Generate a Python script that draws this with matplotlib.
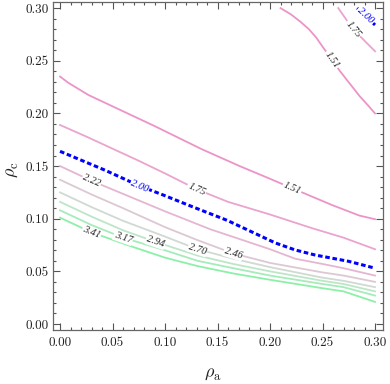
import numpy as np
import matplotlib
matplotlib.use("Agg")
import matplotlib.pyplot as plt
from matplotlib.ticker import MultipleLocator, FormatStrFormatter

plt.rcParams['mathtext.fontset'] = 'cm'
plt.rcParams['axes.formatter.use_mathtext'] = True

# ---- contour lines (rho_a, rho_c) ----
c151_x = [0.0, 0.008, 0.027, 0.059, 0.09, 0.135, 0.171, 0.195, 0.221, 0.259, 0.285, 0.30]
c151_y = [0.235, 0.229, 0.2175, 0.2025, 0.188, 0.166, 0.150, 0.140, 0.129, 0.113, 0.103, 0.0995]

c175_x = [0.0, 0.025, 0.05, 0.075, 0.10, 0.13, 0.16, 0.20, 0.24, 0.27, 0.30]
c175_y = [0.189, 0.178, 0.1665, 0.155, 0.143, 0.128, 0.116, 0.104, 0.091, 0.082, 0.071]

c200_x = [0.0, 0.043, 0.076, 0.097, 0.127, 0.159, 0.189, 0.205, 0.224, 0.243, 0.275, 0.30]
c200_y = [0.164, 0.146, 0.131, 0.123, 0.111, 0.0985, 0.0845, 0.077, 0.0703, 0.0655, 0.0595, 0.053]

c222_x = [0.0, 0.030, 0.059, 0.10, 0.143, 0.17, 0.20, 0.224, 0.25, 0.27, 0.30]
c222_y = [0.150, 0.136, 0.124, 0.107, 0.090, 0.081, 0.071, 0.062, 0.057, 0.053, 0.046]

c246_x = [0.0, 0.03, 0.06, 0.10, 0.13, 0.165, 0.20, 0.25, 0.27, 0.30]
c246_y = [0.137, 0.123, 0.110, 0.092, 0.080, 0.067, 0.058, 0.049, 0.046, 0.040]

c270_x = [0.0, 0.03, 0.06, 0.10, 0.131, 0.165, 0.20, 0.25, 0.27, 0.30]
c270_y = [0.125, 0.111, 0.098, 0.083, 0.071, 0.062, 0.054, 0.044, 0.041, 0.035]

c294_x = [0.0, 0.03, 0.06, 0.091, 0.131, 0.165, 0.20, 0.25, 0.27, 0.30]
c294_y = [0.116, 0.102, 0.089, 0.078, 0.065, 0.057, 0.050, 0.041, 0.038, 0.031]

c317_x = [0.0, 0.03, 0.06, 0.10, 0.131, 0.165, 0.20, 0.25, 0.27, 0.30]
c317_y = [0.108, 0.094, 0.082, 0.070, 0.060, 0.053, 0.046, 0.038, 0.035, 0.027]

c341_x = [0.0, 0.03, 0.07, 0.10, 0.131, 0.165, 0.20, 0.25, 0.27, 0.30]
c341_y = [0.101, 0.087, 0.073, 0.063, 0.055, 0.048, 0.042, 0.034, 0.031, 0.021]

# upper-right branches
u151_x = [0.210, 0.220, 0.229, 0.237, 0.244, 0.251, 0.259, 0.266, 0.273, 0.2857, 0.293, 0.30]
u151_y = [0.300, 0.294, 0.287, 0.280, 0.272, 0.262, 0.251, 0.241, 0.232, 0.216, 0.208, 0.200]
u175_x = [0.265, 0.272, 0.279, 0.290, 0.30]
u175_y = [0.300, 0.290, 0.280, 0.269, 0.259]
u200_x = [0.283, 0.30]
u200_y = [0.300, 0.284]

level_text = ['1.51', '1.75', '2.00', '2.22', '2.46', '2.70', '2.94', '3.17', '3.41']
level_colors = ['#ec94c8', '#eaa4cf', '#0000ff', '#e4b6d2', '#dcc8d3',
                '#d0d9d2', '#bde6c8', '#a5ecb9', '#8cf0a8']

lines = [(c151_x, c151_y, 0), (c175_x, c175_y, 1), (c200_x, c200_y, 2),
         (c222_x, c222_y, 3), (c246_x, c246_y, 4), (c270_x, c270_y, 5),
         (c294_x, c294_y, 6), (c317_x, c317_y, 7), (c341_x, c341_y, 8),
         (u151_x, u151_y, 0), (u175_x, u175_y, 1), (u200_x, u200_y, 2)]

# label positions (rho_a of label centre, on its line)
label_pos = [(c151_x, c151_y, 0, 0.221), (c175_x, c175_y, 1, 0.130),
             (c200_x, c200_y, 2, 0.076), (c222_x, c222_y, 3, 0.030),
             (c246_x, c246_y, 4, 0.165), (c270_x, c270_y, 5, 0.131),
             (c294_x, c294_y, 6, 0.091), (c317_x, c317_y, 7, 0.060),
             (c341_x, c341_y, 8, 0.030),
             (u151_x, u151_y, 0, 0.259), (u175_x, u175_y, 1, 0.279),
             (u200_x, u200_y, 2, 0.2905)]

xticks = [0.00, 0.05, 0.10, 0.15, 0.20, 0.25, 0.30]
yticks = [0.00, 0.05, 0.10, 0.15, 0.20, 0.25, 0.30]

fig = plt.figure(figsize=(3.9, 3.84), dpi=100)
ax = fig.add_axes([53/390, 1-330/384, 330/390, 328/384])
ax.set_xlim(-0.0067, 0.3076)
ax.set_ylim(-0.0057, 0.3058)

for xs, ys, k in lines:
    if k == 2:
        ax.plot(xs, ys, color=level_colors[k], lw=2.2, dashes=[1.5, 0.9], zorder=2,
                solid_capstyle='butt', dash_capstyle='butt')
    else:
        ax.plot(xs, ys, color=level_colors[k], lw=1.3, zorder=2)

for xs, ys, k, lx in label_pos:
    ly = np.interp(lx, xs, ys)
    d = 0.004
    p1 = ax.transData.transform((lx - d, np.interp(lx - d, xs, ys)))
    p2 = ax.transData.transform((lx + d, np.interp(lx + d, xs, ys)))
    ang = np.degrees(np.arctan2(p2[1] - p1[1], p2[0] - p1[0]))
    col = '#0000ff' if k == 2 else '#222222'
    ax.text(lx, ly, level_text[k], fontsize=7.5, family='Liberation Serif',
            style='italic', color=col, rotation=ang, rotation_mode='anchor',
            ha='center', va='center', zorder=3,
            bbox=dict(boxstyle='square,pad=0.08', fc='white', ec='none'))

ax.set_xticks(xticks)
ax.set_yticks(yticks)
ax.xaxis.set_minor_locator(MultipleLocator(0.01))
ax.yaxis.set_minor_locator(MultipleLocator(0.01))
ax.xaxis.set_major_formatter(FormatStrFormatter('%.2f'))
ax.yaxis.set_major_formatter(FormatStrFormatter('%.2f'))
ax.tick_params(which='both', direction='in', top=True, right=True,
               color='#555555', width=0.8, labelsize=9.5, labelcolor='#222222')
ax.tick_params(which='major', length=5, pad=5)
ax.tick_params(which='minor', length=2.5)
for lab in ax.get_xticklabels() + ax.get_yticklabels():
    lab.set_family('cmr10')
ax.tick_params(axis='y', pad=3)
for s in ax.spines.values():
    s.set_color('#666666')
    s.set_linewidth(0.9)

ax.set_xlabel(r'$\rho_{\mathrm{a}}$', fontsize=13, color='#222222')
ax.set_ylabel(r'$\rho_{\mathrm{c}}$', fontsize=13, color='#222222')
ax.xaxis.set_label_coords(0.485, -0.105)
ax.yaxis.set_label_coords(-0.10, 0.49)

fig.savefig('out.png', dpi=100)
